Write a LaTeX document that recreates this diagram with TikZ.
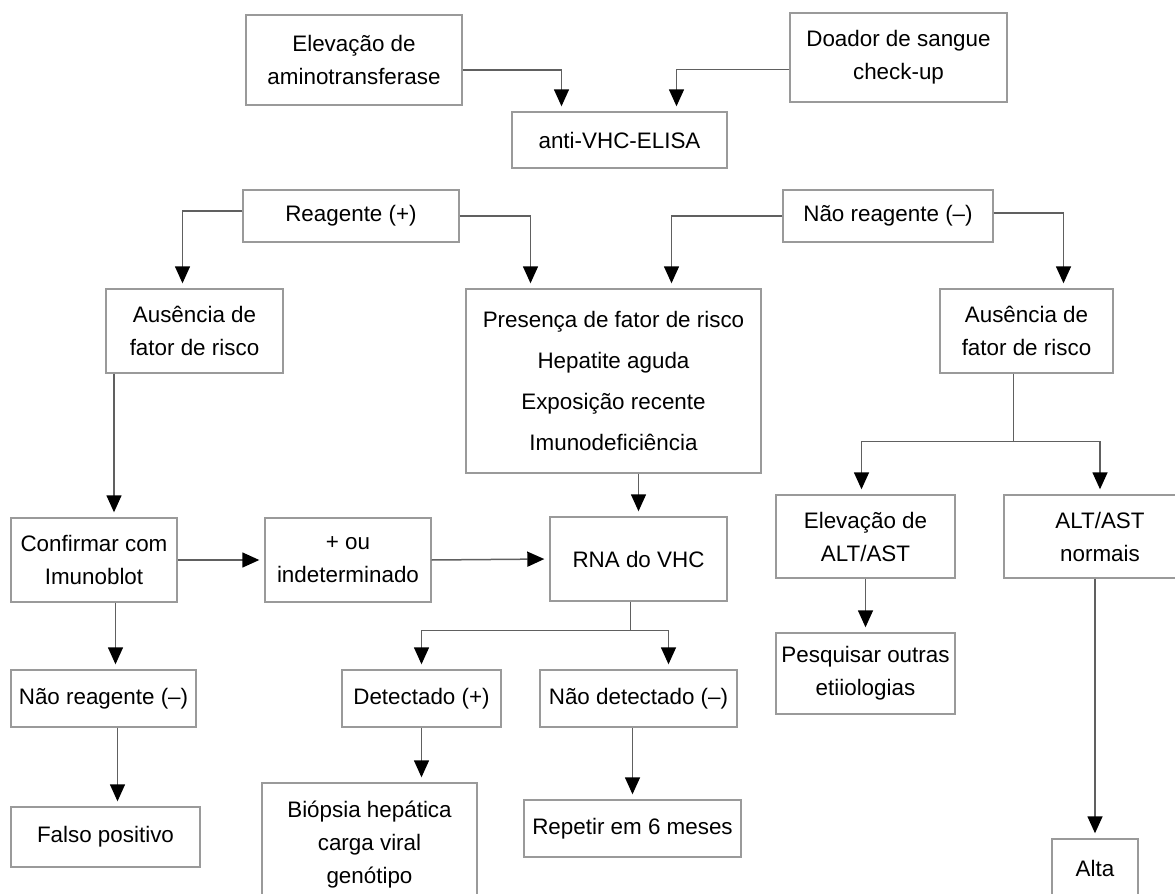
\documentclass[tikz,border=0pt]{standalone}
\usepackage{fontspec}
\setmainfont{Liberation Sans}
\usetikzlibrary{arrows.meta, positioning, calc}
\definecolor{boxGray}{HTML}{9A9A9A}
\definecolor{lineGray}{HTML}{606060}

\begin{document}
\begin{tikzpicture}[
    x=0.5pt, y=-0.5pt,
    box/.style={draw=boxGray, line width=0.7pt, inner sep=0pt, align=center, font=\fontsize{11.2}{16.5}\selectfont},
    arrow/.style={-{Triangle[length=8.5pt, width=7.5pt, color=black]}, draw=lineGray, line width=0.75pt, shorten >=2.5pt},
    link/.style={draw=lineGray, line width=0.75pt},
]
    \path[use as bounding box, fill=white] (0,0) rectangle (1175,894);
    \clip (0,0) rectangle (1175,894);

    % Entrada
    \node[box, minimum width=216pt/2, minimum height=90pt/2] (elev) at (354, 60) {Elevação de\\aminotransferase};
    \node[box, minimum width=217pt/2, minimum height=89pt/2] (doador) at (898.5, 57.5) {Doador de sangue\\check-up};
    \node[box, minimum width=215pt/2, minimum height=56pt/2] (elisa) at (619.5, 140) {anti-VHC-ELISA};

    % Resultado do ELISA
    \node[box, minimum width=216pt/2, minimum height=52pt/2] (reag) at (351, 216) {Reagente (+)};
    \node[box, minimum width=210pt/2, minimum height=52pt/2] (naoreag) at (888, 216) {Não reagente (–)};

    % Fator de risco
    \node[box, minimum width=177pt/2, minimum height=84pt/2] (ausL) at (194.5, 331) {Ausência de\\fator de risco};
    \node[box, minimum width=295pt/2, minimum height=184pt/2] (pres) at (613.5, 381) {Presença de fator de risco\\[4pt]Hepatite aguda\\[4pt]Exposição recente\\[4pt]Imunodeficiência};
    \node[box, minimum width=173pt/2, minimum height=84pt/2] (ausR) at (1026.5, 331) {Ausência de\\fator de risco};

    % Confirmacao
    \node[box, minimum width=166pt/2, minimum height=84pt/2] (conf) at (94, 560) {Confirmar com\\Imunoblot};
    \node[box, minimum width=166pt/2, minimum height=84pt/2] (indet) at (348, 560) {+ ou\\indeterminado};
    \node[box, minimum width=177pt/2, minimum height=84pt/2] (rna) at (638.5, 559) {RNA do VHC};
    \node[box, minimum width=179pt/2, minimum height=83pt/2] (elevalt) at (865.5, 536.5) {Elevação de\\ALT/AST};
    \node[box, minimum width=192pt/2, minimum height=83pt/2] (normais) at (1100, 536.5) {ALT/AST\\normais};

    % Desfechos
    \node[box, minimum width=179pt/2, minimum height=81pt/2] (pesq) at (865.5, 673.5) {Pesquisar outras\\etiiologias};
    \node[box, minimum width=159pt/2, minimum height=57pt/2] (det) at (421.5, 698.5) {Detectado (+)};
    \node[box, minimum width=197pt/2, minimum height=57pt/2] (naodet) at (638.5, 698.5) {Não detectado (–)};
    \node[box, minimum width=185pt/2, minimum height=57pt/2] (nreagL) at (103.5, 698.5) {Não reagente (–)};
    \node[box, minimum width=189pt/2, minimum height=60pt/2] (falso) at (105.5, 837) {Falso positivo};
    \node[box, minimum width=215pt/2, minimum height=124pt/2] (biop) at (369.5, 845) {Biópsia hepática\\carga viral\\genótipo};
    \node[box, minimum width=217pt/2, minimum height=57pt/2] (repetir) at (632.5, 828.5) {Repetir em 6 meses};
    \node[box, minimum width=86pt/2, minimum height=58pt/2] (alta) at (1095, 868) {Alta};

    % Conexoes
    \draw[arrow] ($(elev.east)+(0,10)$) -| ($(elisa.north)+(-58,0)$);
    \draw[arrow] ($(doador.west)+(0,12)$) -| ($(elisa.north)+(57,0)$);
    \draw[arrow] ($(reag.west)+(0,-5)$) -| ($(ausL.north)+(-12,0)$);
    \draw[arrow] (reag.east) -| ($(pres.north)+(-83,0)$);
    \draw[arrow] (naoreag.west) -| ($(pres.north)+(58,0)$);
    \draw[arrow] ($(naoreag.east)+(0,-3)$) -| ($(ausR.north)+(37,0)$);

    \coordinate (ausLdown) at ($(conf.north)+(20,0)$);
    \draw[arrow] (ausLdown |- ausL.south) -- (ausLdown);
    \draw[arrow] (conf.east) -- (indet.west);
    \draw[arrow] (indet.east) -- (rna.west);
    \draw[arrow] (rna.north |- pres.south) -- (rna.north);

    \coordinate (rnasplit) at ($(rna.south)+(-8,29)$);
    \draw[link] (rnasplit |- rna.south) -- (rnasplit);
    \draw[arrow] (rnasplit) -| (det.north);
    \draw[arrow] (rnasplit) -| ($(naodet.north)+(30,0)$);
    \draw[arrow] (det.south) -- (det.south |- biop.north);
    \draw[arrow] (repetir.north |- naodet.south) -- (repetir.north);

    \coordinate (confdown) at ($(nreagL.north)+(12,0)$);
    \draw[arrow] (confdown |- conf.south) -- (confdown);
    \coordinate (nreagdown) at ($(falso.north)+(12,0)$);
    \draw[arrow] (nreagdown |- nreagL.south) -- (nreagdown);

    \coordinate (aussplit) at ($(ausR.south)+(-13,68)$);
    \draw[link] (aussplit |- ausR.south) -- (aussplit);
    \draw[arrow] (aussplit) -| ($(elevalt.north)+(-4,0)$);
    \draw[arrow] (aussplit) -| (normais.north);
    \draw[arrow] (elevalt.south) -- (pesq.north);
    \draw[arrow] (alta.north |- normais.south) -- (alta.north);
\end{tikzpicture}
\end{document}
